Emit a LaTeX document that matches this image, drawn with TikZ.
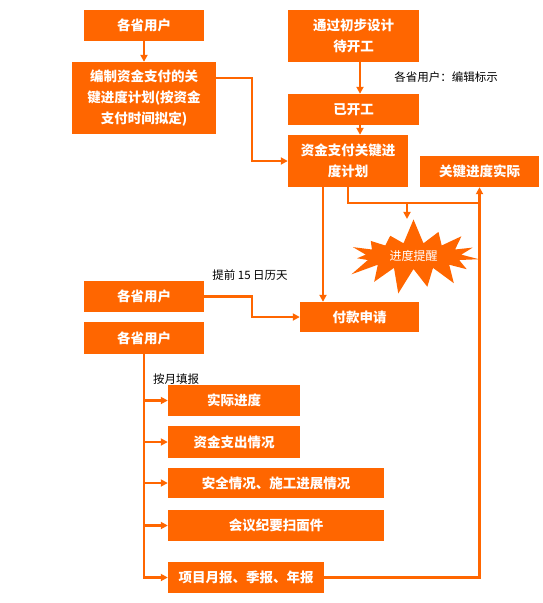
\documentclass[tikz,border=0pt]{standalone}
\usepackage{fontspec}
\newfontfamily\cjk{Noto Sans CJK SC}
\usepackage{xcolor}
\usepackage{tikz}
\usetikzlibrary{arrows.meta,positioning,calc,shapes.symbols}
\definecolor{boxorange}{HTML}{FF6600}

\begin{document}
\begin{tikzpicture}[x=1pt,y=-1pt,>={Triangle[length=7pt,width=7pt]}]
  \tikzset{
    obox/.style={fill=boxorange,text=white,inner sep=0pt,align=center,
                 font=\cjk\bfseries\fontsize{13.5}{21}\selectfont,
                 minimum height=31pt},
    note/.style={font=\cjk\fontsize{11.5}{14}\selectfont,inner sep=0pt},
    link/.style={boxorange,line width=2.2pt},
  }
  \useasboundingbox (0,0) rectangle (542,603);

  % top row
  \node[obox,minimum width=120pt] (u1) at (144,25.5) {各省用户};
  \node[obox,minimum width=144pt,minimum height=72pt] (plan) at (144,98)
    {编制资金支付的关\\键进度计划(按资金\\支付时间拟定)};
  \node[obox,minimum width=131pt,minimum height=52pt] (wait) at (353.5,36)
    {通过初步设计\\待开工};
  \node[obox,minimum width=131pt] (start) at (353.5,109.5) {已开工};
  \node[obox,minimum width=120pt,minimum height=52pt] (sched) at (348,161)
    {资金支付关键进\\度计划};
  \node[obox,minimum width=119pt] (real) at (479.5,171.5) {关键进度实际};
  \node[note] at (446,77) {各省用户：编辑标示};

  % alert
  \node[starburst,fill=boxorange,text=white,inner sep=0pt,
        minimum width=148pt,minimum height=78pt,starburst point height=26pt,
        starburst points=15,random starburst=7,
        font=\cjk\fontsize{12}{14}\selectfont] (alert) at (413.5,256) {进度提醒};

  % payment
  \node[obox,minimum width=120pt] (u3) at (144,296.5) {各省用户};
  \node[obox,minimum width=120pt,minimum height=32pt] (u4) at (144,338) {各省用户};
  \node[obox,minimum width=119pt,minimum height=30pt] (pay) at (359.5,317) {付款申请};
  \node[note] at (250,275) {提前 15 日历天};

  % monthly reports
  \node[note] at (176,379) {按月填报};
  \node[obox,minimum width=132pt] (r1) at (234,400.5) {实际进度};
  \node[obox,minimum width=132pt,minimum height=32pt] (r2) at (234,442) {资金支出情况};
  \node[obox,minimum width=216pt,minimum height=30pt] (r3) at (276,483) {安全情况、施工进展情况};
  \node[obox,minimum width=216pt] (r4) at (276,525.5) {会议纪要扫面件};
  \node[obox,minimum width=156pt] (r5) at (246,577.5) {项目月报、季报、年报};

  \coordinate (bendA) at (252,78);
  \coordinate (bendB) at (252,296.5);
  \coordinate (split) at (348,203);
  \coordinate (tap) at (407,203);
  \coordinate (join) at (479.5,203);

  \draw[link,->] (u1) -- (plan);
  \draw[link,->] ([xshift=6.5]wait.south) -- ([xshift=6.5]start.north);
  \draw[link,->] ([xshift=6.5]start.south) -- ([xshift=6.5]start.south |- sched.north);
  \draw[link,->] (plan.east |- bendA) -- (bendA) |- (sched.west);
  \draw[link] (sched.south) -- (split) -- (join);
  \draw[link,->] (tap) -- (tap |- alert.north);
  \draw[link,->] ([xshift=-25]sched.south) -- ([xshift=-25]sched.south |- pay.north);
  \draw[link,->] (u3.east) -- (bendB) |- (pay.west);
  \draw[link,->] (u4.south) |- (r5.west);
  \foreach \r in {r1,r2,r3,r4}
    \draw[link,->] (u4.south |- \r.west) -- (\r.west);
  \draw[link,->] (r5.east) -| (real.south);
\end{tikzpicture}
\end{document}
